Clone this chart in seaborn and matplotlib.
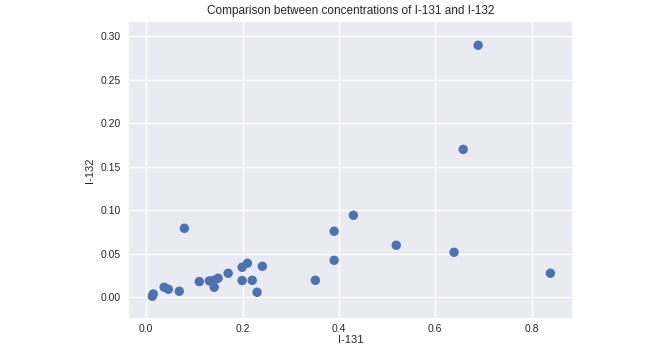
import matplotlib
matplotlib.use("Agg")
import matplotlib.pyplot as plt
import seaborn as sns
import pandas as pd

i131 = [0.689, 0.658, 0.430, 0.390, 0.079, 0.519, 0.639, 0.390, 0.839, 0.351,
        0.241, 0.210, 0.199, 0.199, 0.220, 0.230, 0.170, 0.149, 0.140, 0.131,
        0.141, 0.110, 0.0685, 0.0457, 0.037, 0.0145, 0.0125]
i132 = [0.2897, 0.170, 0.0943, 0.0759, 0.0793, 0.0598, 0.0517, 0.0425, 0.0276, 0.0195,
        0.0356, 0.0391, 0.0345, 0.0192, 0.0195, 0.0057, 0.0276, 0.0218, 0.0195, 0.0188,
        0.0115, 0.018, 0.0069, 0.0092, 0.0115, 0.0038, 0.0011]
x_ticks = [0.0, 0.2, 0.4, 0.6, 0.8]
y_ticks = [0.00, 0.05, 0.10, 0.15, 0.20, 0.25, 0.30]

df = pd.DataFrame({"I-131": i131, "I-132": i132})

sns.set_theme(style="darkgrid")
plt.rcParams['font.family'] = ['Liberation Sans', 'DejaVu Sans']

fig = plt.figure(figsize=(6.61, 3.57), dpi=100)
ax = fig.add_axes([128/661, 1-319/357, (573-128)/661, (319-21)/357])
sns.scatterplot(data=df, x="I-131", y="I-132", ax=ax, s=46, color="#4C72B0",
                edgecolor="none", linewidth=0)
ax.set_xlim(-0.038, 0.886)
ax.set_ylim(-0.025, 0.3176)
ax.set_xticks(x_ticks)
ax.set_yticks(y_ticks)
ax.set_xticklabels([f"{v:.1f}" for v in x_ticks])
ax.set_yticklabels([f"{v:.2f}" for v in y_ticks])
ax.tick_params(axis="x", length=0, labelsize=7.5, colors="#262626", pad=3.5)
ax.tick_params(axis="y", length=0, labelsize=7.5, colors="#262626", pad=5)
ax.set_xlabel("I-131", fontsize=8, labelpad=1)
ax.set_ylabel("I-132", fontsize=8, labelpad=4)
ax.set_title("Comparison between concentrations of I-131 and I-132", fontsize=8.5, pad=5)
fig.savefig("out.png", dpi=100)
